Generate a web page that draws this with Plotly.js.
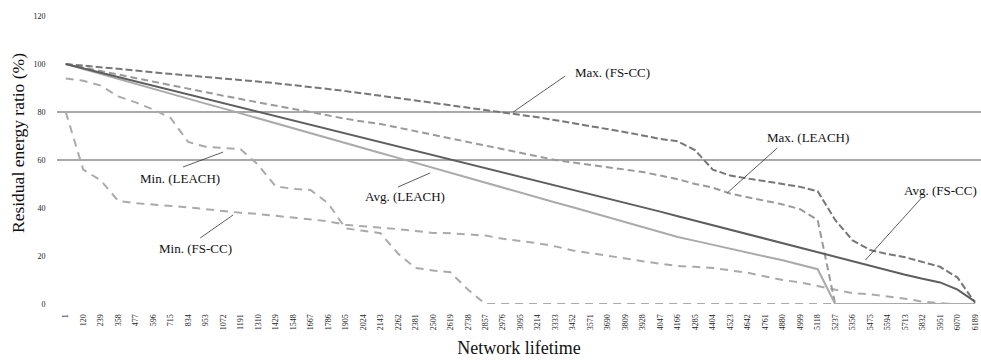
<!DOCTYPE html>
<html>
<head>
<meta charset="utf-8">
<script src="https://cdn.plot.ly/plotly-3.0.1.min.js"></script>
<style>html,body{margin:0;padding:0;background:#fff;}#chart{width:981px;height:364px;}</style>
</head>
<body>
<div id="chart"></div>
<script>
const lifetime = ["1","120","239","358","477","596","715","834","953","1072","1191","1310","1429","1548","1667","1786","1905","2024","2143","2262","2381","2500","2619","2738","2857","2976","3095","3214","3333","3452","3571","3690","3809","3928","4047","4166","4285","4404","4523","4642","4761","4880","4999","5118","5237","5356","5475","5594","5713","5832","5951","6070","6189"];

const avgFSCC = [100,98.2,96.4,94.5,92.7,90.9,89.1,87.3,85.5,83.7,81.9,80.1,78.3,76.5,74.7,72.9,71.1,69.3,67.4,65.6,63.8,62,60.2,58.4,56.6,54.8,53,51.2,49.4,47.6,45.8,44,42.2,40.4,38.5,36.6,34.7,32.8,30.9,29,27.1,25.2,23.3,21.4,19.5,17.6,15.8,14,12.2,10.5,9,6,1];
const avgLEACH = [100,97.9,95.9,93.8,91.8,89.7,87.6,85.6,83.5,81.5,79.4,77.3,75.3,73.2,71.2,69.1,67,65,62.9,60.9,58.8,56.7,54.7,52.6,50.6,48.5,46.4,44.4,42.3,40.3,38.2,36.1,34.1,32,30,27.9,26.3,24.6,23,21.4,19.8,18.2,16.4,14.5,0,0,0,0,0,0,0,0,0];
const maxFSCC = [100,99.4,98.8,98,97.3,96.5,96,95.2,94.6,94,93.4,92.6,92,91.2,90.5,89.6,88.7,87.8,87,85.8,84.8,83.8,82.8,81.8,81,80,79,77.8,76.6,75.4,74.2,73,71.6,70.2,68.8,67.8,64,56,53.5,52.3,51,50,48.8,47,35,26.5,22.5,20.8,19.5,17.5,15.5,11,0.5];
const maxLEACH = [100,98.5,97,95.5,94,92.5,91,89.6,88.2,86.8,85.4,84,82.6,81.2,79.8,78.5,77.2,76,75,73.5,72,70.5,69,67.5,66,64.5,63,61.5,60,59,58,57,56,55,53.5,52,50,48.5,46,44.5,43,41.5,39.5,35,0,0,0,0,0,0,0,0,0];
const minLEACH = [94,93,91,86.5,84,81,77.5,67.5,65.5,65,64.5,58,49,48,47.5,42,31.5,30.5,29.5,21,15,14,13.2,6,0,0,0,0,0,0,0,0,0,0,0,0,0,0,0,0,0,0,0,0,0,0,0,0,0,0,0,0,0];
const minFSCC = [80,56,51.5,43,42,41.5,41,40.3,39.5,38.7,38,37.5,36.8,36,35.3,34.5,33,32.5,32,31.2,30.4,29.6,29.5,29,28.5,27.2,26.3,25.3,24,22.3,21.2,20.2,19,17.8,16.8,15.8,15.5,15,14,13,11.5,10,9,7.5,6,4.5,4,3.2,2.2,1,0.3,0,0];

const yTicks = [0,20,40,60,80,100,120];
const refLines = [80,60];

const serif = "Liberation Serif, Times New Roman, serif";

function tr(name, y, color, width, dash) {
  return {x: lifetime, y: y, name: name, type: 'scatter', mode: 'lines',
    line: {color: color, width: width, dash: dash}, hoverinfo: 'skip'};
}

const traces = [
  tr('Min. (LEACH)', minLEACH, '#aaaaaa', 2, '8px,6px'),
  tr('Min. (FS-CC)', minFSCC, '#aaaaaa', 2, '8px,6px'),
  tr('Max. (LEACH)', maxLEACH, '#9a9a9a', 2, '7px,4px'),
  tr('Max. (FS-CC)', maxFSCC, '#777777', 2, '7px,3px'),
  tr('Avg. (LEACH)', avgLEACH, '#aaaaaa', 2, 'solid'),
  tr('Avg. (FS-CC)', avgFSCC, '#5e5e5e', 2, 'solid')
];

const labels = [
  {t: 'Max. (FS-CC)', tx: 29.0, ty: 96.3, xa: 'left', x0: 28.56, y0: 95, x1: 25.59, y1: 80},
  {t: 'Max. (LEACH)', tx: 40.0, ty: 69.2, xa: 'left', x0: 40.69, y0: 65, x1: 37.83, y1: 46.3},
  {t: 'Avg. (FS-CC)', tx: 52.25, ty: 47.5, xa: 'right', x0: 48.99, y0: 44.6, x1: 45.73, y1: 18.3},
  {t: 'Min. (LEACH)', tx: 4.13, ty: 52.5, xa: 'left', x0: 6.71, y0: 57.1, x1: 9.0, y1: 63.3},
  {t: 'Avg. (LEACH)', tx: 17.0, ty: 44.6, xa: 'left', x0: 19.0, y0: 48.75, x1: 20.84, y1: 54.6},
  {t: 'Min. (FS-CC)', tx: 5.23, ty: 23.3, xa: 'left', x0: 7.69, y0: 27.5, x1: 9.57, y1: 37.1}
];

const shapes = refLines.map(v => ({type: 'line', xref: 'paper', yref: 'y', x0: 0, x1: 1, y0: v, y1: v,
  line: {color: '#8c8c8c', width: 1.5}, layer: 'below'}));
labels.forEach(l => shapes.push({type: 'line', xref: 'x', yref: 'y', x0: l.x0, y0: l.y0, x1: l.x1, y1: l.y1,
  line: {color: '#333333', width: 0.8}}));

const annotations = labels.map(l => ({x: l.tx, y: l.ty, xref: 'x', yref: 'y', text: l.t, showarrow: false,
  xanchor: l.xa, yanchor: 'middle', font: {family: serif, size: 13, color: '#111'}}));
annotations.push({text: 'Residual energy ratio (%)', xref: 'paper', yref: 'paper', x: -0.043, y: 0.56,
  xanchor: 'center', yanchor: 'middle', textangle: -90, showarrow: false,
  font: {family: serif, size: 17.5, color: '#111'}});

const layout = {
  width: 981, height: 364,
  margin: {l: 57, r: 0, t: 16, b: 60},
  paper_bgcolor: '#fff', plot_bgcolor: '#fff',
  showlegend: false,
  xaxis: {type: 'category', range: [-0.5, 52.34], showgrid: false, zeroline: false, showline: false,
    tickangle: -90, tickfont: {family: serif, size: 8, color: '#222'}, ticks: 'outside', ticklen: 6,
    tickcolor: 'rgba(0,0,0,0)', automargin: false,
    title: {text: 'Network lifetime', font: {family: serif, size: 18, color: '#111'}, standoff: 12}},
  yaxis: {range: [0, 120], tickvals: yTicks, showgrid: false, zeroline: false, showline: false,
    ticks: 'outside', ticklen: 9, tickcolor: 'rgba(0,0,0,0)',
    tickfont: {family: serif, size: 8, color: '#222'}, automargin: false},
  shapes: shapes,
  annotations: annotations
};

Plotly.newPlot('chart', traces, layout, {displayModeBar: false, staticPlot: true});
</script>
</body>
</html>
